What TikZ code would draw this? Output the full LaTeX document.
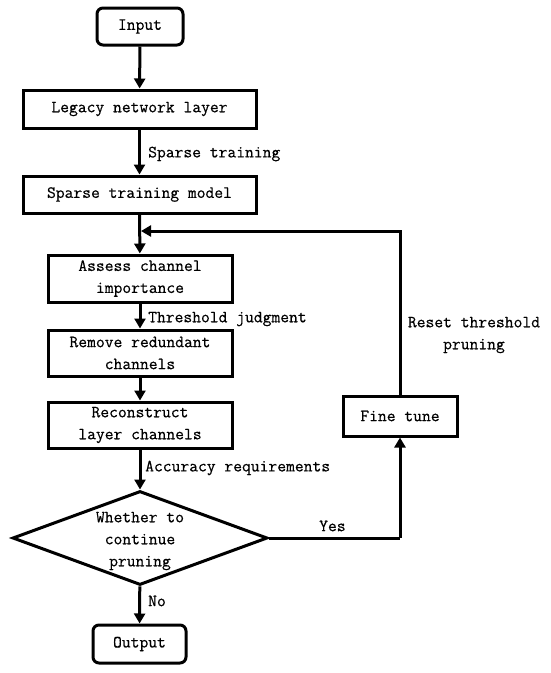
\documentclass[tikz,border=0pt]{standalone}
\usepackage{fontspec}
\setmonofont[FakeBold=0.5]{Latin Modern Mono}
\usetikzlibrary{shapes.geometric,arrows.meta}
\begin{document}
\begin{tikzpicture}[x=1pt,y=-1pt,
  every node/.style={font=\ttfamily\fontsize{17.1}{22}\selectfont},
  box/.style={draw,line width=3pt,inner sep=0pt,align=center},
  rbox/.style={box,rounded corners=6pt},
  lbl/.style={inner sep=0pt,anchor=west},
  arr/.style={line width=3pt,-{Triangle[length=10pt,width=11pt]}},
  ln/.style={line width=3pt}]
\useasboundingbox (0,0) rectangle (550,673);
\node[rbox,minimum width=86,minimum height=37] (input) at (140,26.5) {Input};
\node[box,minimum width=233,minimum height=38] (legacy) at (139.5,109) {Legacy network layer};
\node[box,minimum width=233,minimum height=37] (stm) at (139.5,194.5) {Sparse training model};
\node[box,minimum width=184,minimum height=47] (assess) at (140,278.5) {Assess channel\\importance};
\node[box,minimum width=184,minimum height=46] (remove) at (140,353) {Remove redundant\\channels};
\node[box,minimum width=184,minimum height=46] (recon) at (140,425) {Reconstruct\\layer channels};
\node[draw,diamond,line width=3pt,inner sep=0pt,minimum width=255,minimum height=94] (dec) at (140,538) {};
\node[inner sep=0pt,align=center] (dectext) at (140,541) {Whether to\\continue\\pruning};
\node[rbox,minimum width=93,minimum height=38] (output) at (139.5,644) {Output};
\node[box,minimum width=114,minimum height=40] (fine) at (400,416) {Fine tune};
\coordinate (join) at (141,231);
\coordinate (corner) at (fine.south |- dec.east);

\draw[arr] (input) -- (legacy);
\draw[arr] (legacy) -- (stm);
\draw[arr] (stm) -- (assess);
\draw[arr] (assess) -- (remove);
\draw[arr] (remove) -- (recon);
\draw[arr] (recon) -- (dec);
\draw[arr] (dec) -- (output);
\draw[ln] (dec.east) -- (corner);
\draw[arr] (corner) -- (fine.south);
\draw[arr] (fine.north) |- (join);

\node[lbl] (l1) at (148,154) {Sparse training};
\node[lbl] (l2) at (148,319) {Threshold judgment};
\node[lbl] (l3) at (145,468) {Accuracy requirements};
\node[lbl] (l4) at (148,601) {No};
\node[lbl] (l5) at (319,526) {Yes};
\node[inner sep=0pt,align=center] (l6) at (474,335) {Reset threshold\\pruning};
\end{tikzpicture}
\end{document}
